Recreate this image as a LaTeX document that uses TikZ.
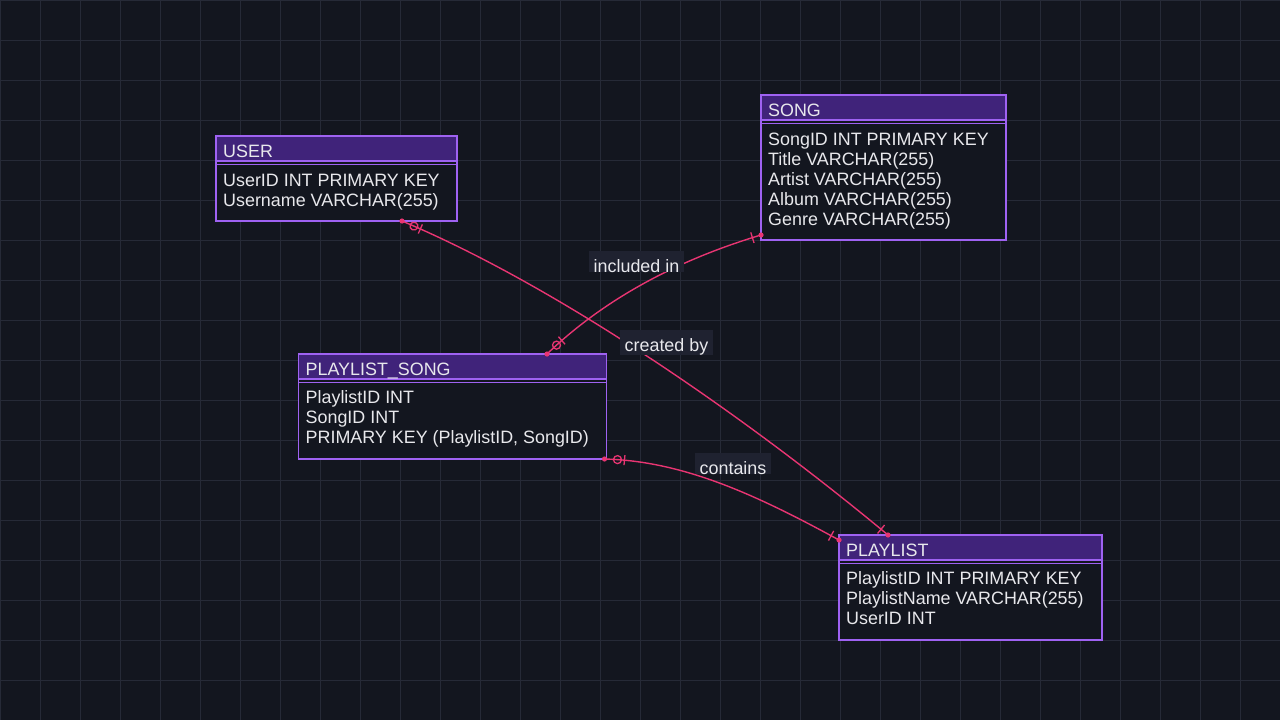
\documentclass[tikz,border=0pt]{standalone}
\usepackage{fontspec}
\setmainfont{Liberation Sans}
\usetikzlibrary{decorations.markings,calc}
\definecolor{bgc}{HTML}{13161F}
\definecolor{gridc}{HTML}{262A37}
\definecolor{bordc}{HTML}{9F62F2}
\definecolor{hdrc}{HTML}{40237A}
\definecolor{txtc}{HTML}{E8E8EC}
\definecolor{pinkc}{HTML}{E83572}
\definecolor{lblc}{HTML}{1F2230}
\newcommand\erfont{\fontsize{17.9pt}{20pt}\selectfont}
\newcommand\ertbl[5]{%
  \node[tblbody, minimum width=#4pt, minimum height={45+20*#5}, anchor=north west] (#1) at (#2,#3) {};
  \fill[hdrc] (#1.north west) rectangle ([yshift=-25pt]#1.north east);
  \draw[bord] ([yshift=-25pt]#1.north west) -- ([yshift=-25pt]#1.north east);
  \draw[bord] ([yshift=-28.5pt]#1.north west) -- ([yshift=-28.5pt]#1.north east);
  \draw[bord] (#1.north west) rectangle (#1.south east);
}
\begin{document}
\begin{tikzpicture}[x=1pt,y=-1pt,
  gridline/.style={draw=gridc, line width=1pt},
  tblbody/.style={fill=bgc, inner sep=0pt, outer sep=0pt, draw=none},
  bord/.style={draw=bordc, line width=1.8pt},
  txt/.style={text=txtc, font=\erfont, inner sep=0pt, anchor=base west},
  lbl/.style={fill=lblc, text=txtc, font=\erfont, inner xsep=4.5pt, inner ysep=0pt, text height=21.5pt, anchor=base west},
  rel/.style={draw=pinkc, line width=1.4pt},
  pinkline/.style={draw=pinkc, line width=1.3pt},
  zeroone/.style={postaction={decorate, decoration={markings,
      mark=at position 13pt with {\draw[pinkline] (0,0) circle (4pt);},
      mark=at position 20pt with {\draw[pinkline] (0,-5pt) -- (0,5pt);}}}},
  onlyone/.style={postaction={decorate, decoration={markings,
      mark=at position -9pt with {\draw[pinkline] (0,-5.5pt) -- (0,5.5pt);}}}}
]
\useasboundingbox (0,0) rectangle (1280,720);
\fill[bgc] (0,0) rectangle (1280,720);
\foreach \i in {0,40,...,1280} \draw[gridline] (\i,0) -- (\i,720);
\foreach \j in {0,40,...,720} \draw[gridline] (0,\j) -- (1280,\j);

% USER
\ertbl{user}{216}{136}{241}{2}
\node[txt] (usert) at (223,157.5) {USER};
\node[txt] (user1) at (223,186) {UserID INT PRIMARY KEY};
\node[txt] (user2) at (223,206) {Username VARCHAR(255)};

% SONG
\ertbl{song}{761}{95}{245}{5}
\node[txt] (songt) at (768,116.5) {SONG};
\node[txt] (song1) at (768,145) {SongID INT PRIMARY KEY};
\node[txt] (song2) at (768,165) {Title VARCHAR(255)};
\node[txt] (song3) at (768,185) {Artist VARCHAR(255)};
\node[txt] (song4) at (768,205) {Album VARCHAR(255)};
\node[txt] (song5) at (768,225) {Genre VARCHAR(255)};

% PLAYLIST_SONG
\ertbl{pls}{298.5}{354}{308}{3}
\node[txt] (plst) at (305.5,375.5) {PLAYLIST\_SONG};
\node[txt] (pls1) at (305.5,403.5) {PlaylistID INT};
\node[txt] (pls2) at (305.5,423.5) {SongID INT};
\node[txt] (pls3) at (305.5,443.5) {PRIMARY KEY (PlaylistID, SongID)};

% PLAYLIST
\ertbl{pl}{839}{535}{263}{3}
\node[txt] (plt) at (846,556.5) {PLAYLIST};
\node[txt] (pl1) at (846,584.5) {PlaylistID INT PRIMARY KEY};
\node[txt] (pl2) at (846,604.5) {PlaylistName VARCHAR(255)};
\node[txt] (pl3) at (846,624.5) {UserID INT};

% connector end points
\coordinate (ua) at ([xshift=186pt]user.south west);
\coordinate (pa) at ([xshift=49pt]pl.north west);
\coordinate (pst) at ([xshift=248.5pt]pls.north west);
\coordinate (sl) at ([yshift=5pt]song.south west);
\coordinate (psb) at ([xshift=-2pt]pls.south east);
\coordinate (pll) at ([yshift=-5pt]pl.north west);

\draw[rel, zeroone, onlyone] (ua) .. controls (552,284) and (737,409.5) .. (pa);
\draw[rel, zeroone, onlyone] (pst) .. controls (607,296.5) and (681,259) .. (sl);
\draw[rel, zeroone, onlyone] (psb) .. controls (684.3,461) and (758.3,496) .. (pll);
\foreach \p in {ua,pa,pst,sl,psb,pll} \fill[pinkc] (\p) circle (2.6pt);

\node[lbl] (lincl) at (589,272.3) {included in};
\node[lbl] (lcreat) at (620,351.7) {created by};
\node[lbl] (lcont) at (695,474.3) {contains};
\end{tikzpicture}
\end{document}
